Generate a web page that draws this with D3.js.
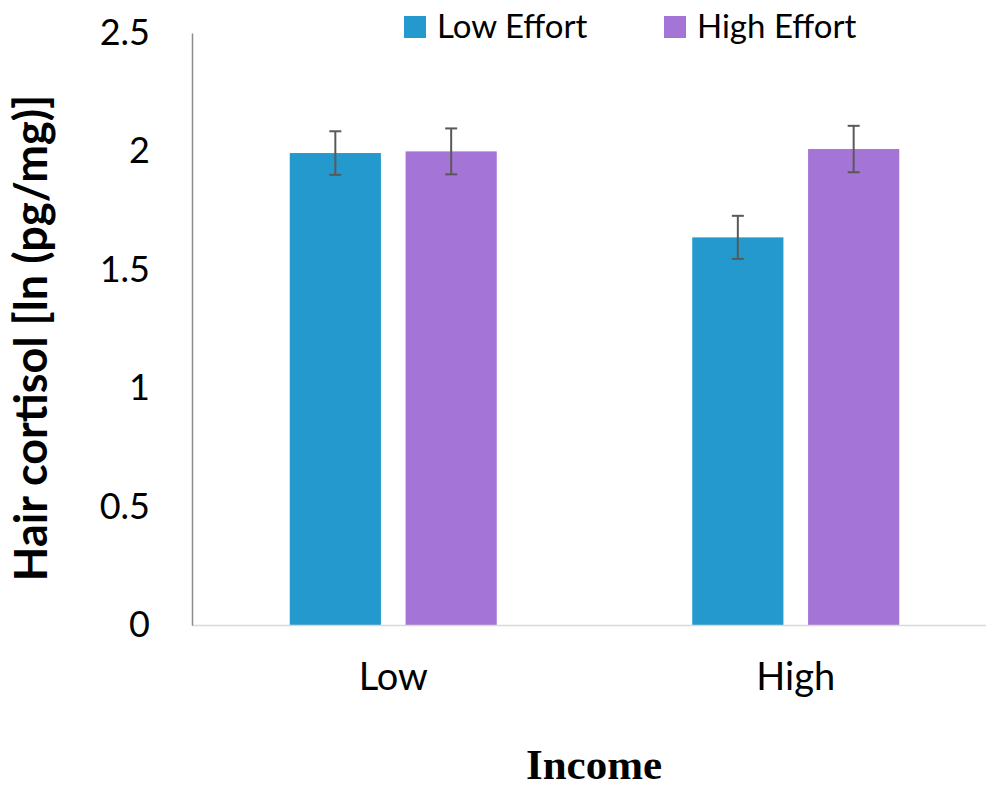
<!DOCTYPE html>
<html><head><meta charset="utf-8">
<script src="https://cdn.jsdelivr.net/npm/d3@7"></script>
<style>body{margin:0;background:#fff}svg{display:block}</style>
</head><body>
<svg id="c" width="986" height="790"></svg>
<script>
const categories = ["Low", "High"];
const seriesNames = ["Low Effort", "High Effort"];
const lowEffort = [1.993, 1.637];
const highEffort = [2.000, 2.010];
const lowEffortErr = [0.092, 0.091];
const highEffortErr = [0.097, 0.098];
const yTicks = [0, 0.5, 1, 1.5, 2, 2.5];
const colors = ["#2399CD", "#A474D6"];

const svg = d3.select("#c");
const mLeft = 192, mRight = 997, mTop = 33, mBottom = 625;
const x0 = d3.scaleBand().domain(categories).range([mLeft, mRight]);
const x1 = d3.scaleBand().domain(seriesNames).range([0, 207]).paddingInner(0.213);
const y = d3.scaleLinear().domain([0, 2.5]).range([mBottom, mTop]);

const data = [];
categories.forEach((c, i) => {
  data.push({c, s: seriesNames[0], v: lowEffort[i], e: lowEffortErr[i], col: colors[0]});
  data.push({c, s: seriesNames[1], v: highEffort[i], e: highEffortErr[i], col: colors[1]});
});
const off = (x0.bandwidth() - 207) / 2;
const bx = d => x0(d.c) + off + x1(d.s);

svg.append("g").selectAll("rect").data(data).join("rect")
  .attr("x", bx).attr("width", x1.bandwidth())
  .attr("y", d => y(d.v)).attr("height", d => y(0) - y(d.v))
  .attr("fill", d => d.col);

// x axis baseline
svg.append("line").attr("x1", mLeft).attr("x2", 986).attr("y1", y(0) + 0.5).attr("y2", y(0) + 0.5)
  .attr("stroke", "#d9d9d9").attr("stroke-width", 1.5);

// y axis
const yAxis = d3.axisLeft(y).tickValues(yTicks).tickSize(0).tickPadding(42).tickFormat(d3.format("~g"));
const ya = svg.append("g").attr("transform", `translate(${mLeft},0)`).call(yAxis);
ya.select(".domain").attr("stroke", "#8c8c8c").attr("stroke-width", 1.5);
ya.selectAll("text").attr("font-family", "Lato, 'Open Sans', sans-serif").attr("font-size", 36).attr("fill", "#000");

// x axis labels
const xa = svg.append("g").attr("transform", `translate(0,${mBottom})`)
  .call(d3.axisBottom(x0).tickSize(0).tickPadding(38));
xa.select(".domain").remove();
xa.selectAll("text").attr("font-family", "Lato, 'Open Sans', sans-serif").attr("font-size", 38).attr("fill", "#000");

// error bars
const eg = svg.append("g").attr("stroke", "#595959").attr("stroke-width", 2);
data.forEach(d => {
  const cx = bx(d) + x1.bandwidth() / 2;
  eg.append("line").attr("x1", cx).attr("x2", cx).attr("y1", y(d.v + d.e)).attr("y2", y(d.v - d.e));
  [d.v + d.e, d.v - d.e].forEach(v => {
    eg.append("line").attr("x1", cx - 6).attr("x2", cx + 6).attr("y1", y(v)).attr("y2", y(v));
  });
});

// legend
const legX = [404, 664];
seriesNames.forEach((s, i) => {
  svg.append("rect").attr("x", legX[i]).attr("y", 16).attr("width", 22).attr("height", 22).attr("fill", colors[i]);
  svg.append("text").attr("x", legX[i] + 33).attr("y", 38).text(s)
    .attr("font-family", "Lato, 'Open Sans', sans-serif").attr("font-size", 33).attr("fill", "#000");
});

// axis titles
svg.append("text").attr("x", 594).attr("y", 779).attr("text-anchor", "middle")
  .attr("font-family", "'Liberation Serif', 'DejaVu Serif', serif").attr("font-weight", "bold")
  .attr("font-size", 43).text("Income");
svg.append("text").attr("transform", "translate(47,338) rotate(-90)").attr("text-anchor", "middle")
  .attr("font-family", "Lato, 'Open Sans', sans-serif").attr("font-weight", "bold")
  .attr("font-size", 45).text("Hair cortisol [ln (pg/mg)]");
</script>
</body></html>
